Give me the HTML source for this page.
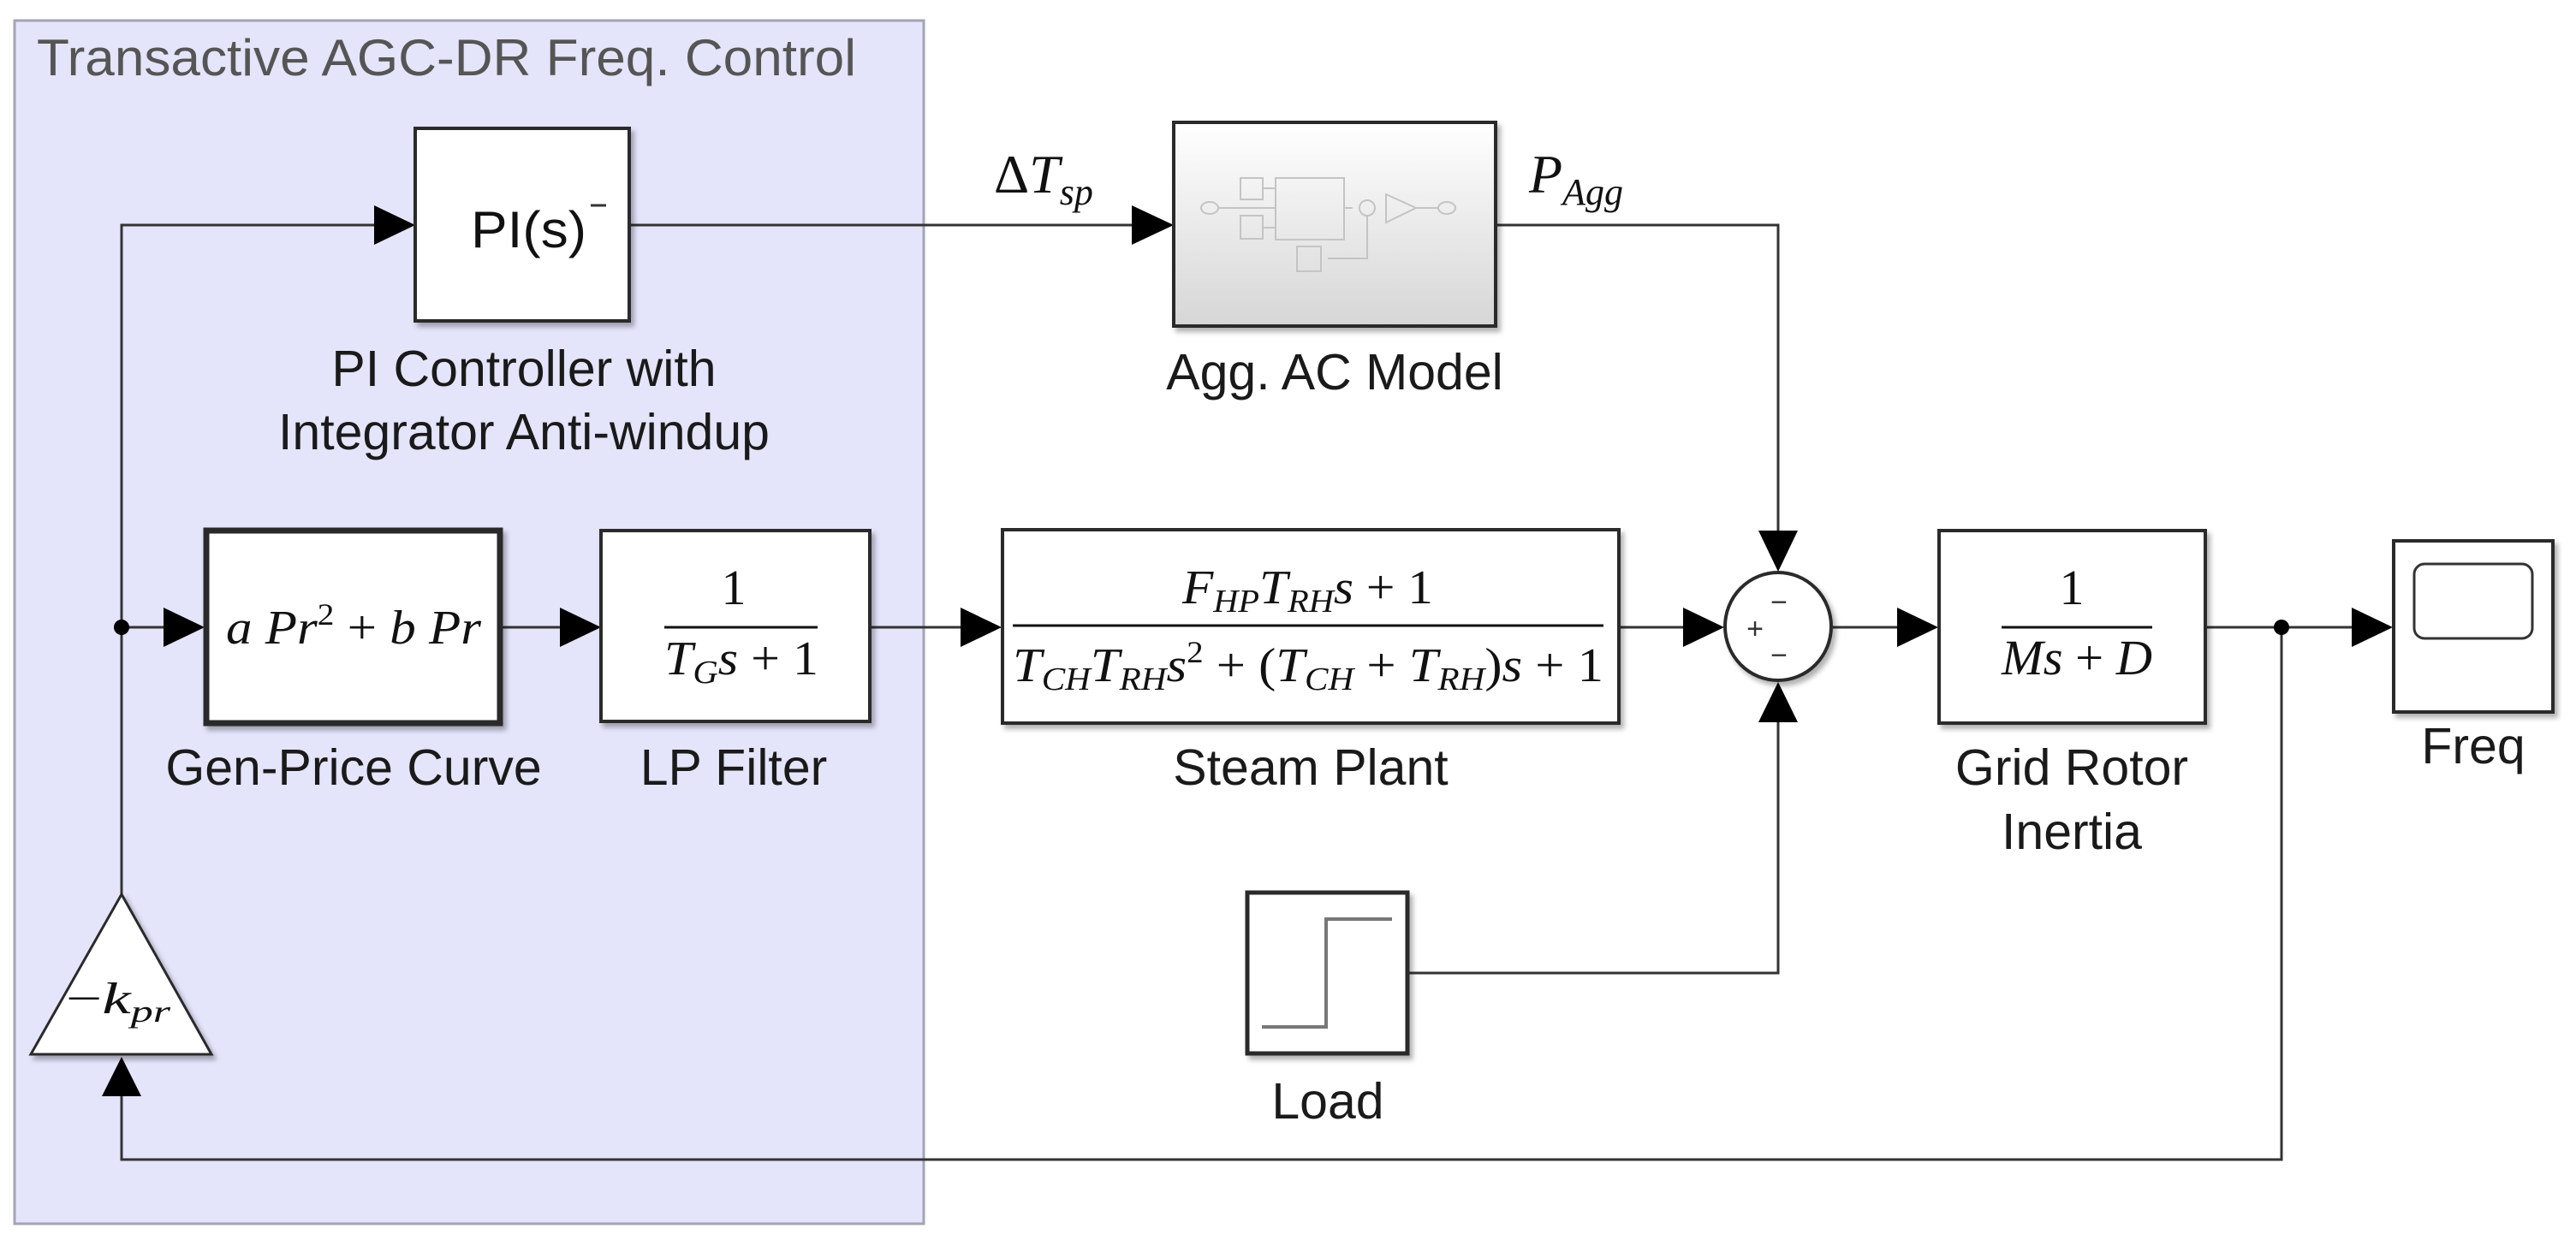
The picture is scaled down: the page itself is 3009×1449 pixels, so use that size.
<!DOCTYPE html>
<html><head><meta charset="utf-8"><style>html,body{margin:0;padding:0;background:#fff}svg{display:block}</style></head>
<body>
<svg width="3009" height="1449" viewBox="0 0 3009 1449" xmlns="http://www.w3.org/2000/svg">
<defs>
<filter id="sh" x="-10%" y="-10%" width="130%" height="130%"><feDropShadow dx="4" dy="5" stdDeviation="3" flood-color="#000" flood-opacity="0.3"/></filter>
<linearGradient id="ag" x1="0" y1="0" x2="0" y2="1"><stop offset="0" stop-color="#ffffff"/><stop offset="1" stop-color="#d6d6d6"/></linearGradient>
</defs>
<rect x="17" y="24" width="1062" height="1406" fill="#e4e4fb" stroke="#a4a4b4" stroke-width="3"/>
<text x="43" y="88" font-family="Liberation Sans, sans-serif" font-size="60" fill="#555" textLength="957" lengthAdjust="spacingAndGlyphs">Transactive AGC-DR Freq. Control</text>

<g stroke="#333" stroke-width="3" fill="none">
<polyline points="142,1045 142,263 440,263"/>
<line x1="735" y1="263" x2="1325" y2="263"/>
<polyline points="1747,263 2077,263 2077,622"/>
<line x1="142" y1="733" x2="192" y2="733"/>
<line x1="585" y1="733" x2="656" y2="733"/>
<line x1="1016" y1="733" x2="1124" y2="733"/>
<line x1="1891" y1="733" x2="1968" y2="733"/>
<line x1="2139" y1="733" x2="2218" y2="733"/>
<line x1="2576" y1="733" x2="2749" y2="733"/>
<polyline points="1644,1137 2077,1137 2077,842"/>
<polyline points="2665,733 2665,1355 142,1355 142,1280"/>
</g>
<g fill="#000">
<polygon points="437,240 485,263 437,286"/>
<polygon points="1322,240 1371,263 1322,286"/>
<polygon points="191,710 239,733 191,756"/>
<polygon points="654,710 702,733 654,756"/>
<polygon points="1122,710 1170,733 1122,756"/>
<polygon points="1966,710 2014,733 1966,756"/>
<polygon points="2216,710 2264,733 2216,756"/>
<polygon points="2747,710 2795,733 2747,756"/>
<polygon points="2054,620 2100,620 2077,668"/>
<polygon points="2054,844 2100,844 2077,797"/>
<polygon points="119,1281 165,1281 142,1235"/>
<circle cx="142" cy="733" r="9"/>
<circle cx="2665" cy="733" r="9"/>
</g>

<g filter="url(#sh)" stroke="#2a2a2a" stroke-width="4">
<rect x="485" y="150" width="250" height="225" fill="#fff"/>
<rect x="1371" y="143" width="376" height="238" fill="url(#ag)"/>
<rect x="241" y="620" width="343" height="225" fill="#fff" stroke-width="7"/>
<rect x="702" y="620" width="314" height="223" fill="#fff"/>
<rect x="1171" y="619" width="720" height="226" fill="#fff"/>
<ellipse cx="2077" cy="732" rx="62" ry="63" fill="#fff"/>
<rect x="2265" y="620" width="311" height="225" fill="#fff"/>
<rect x="2796" y="632" width="186" height="200" fill="#fff"/>
<rect x="1457" y="1043" width="187" height="188" fill="#fff" stroke-width="5"/>
<polygon points="142,1045 247,1232 36,1232" fill="#fff" stroke-width="3"/>
</g>

<g stroke="#c4c4c4" stroke-width="2" fill="none">
<ellipse cx="1413" cy="243" rx="10" ry="7"/>
<line x1="1423" y1="243" x2="1490" y2="243"/>
<rect x="1449" y="208" width="26" height="25"/>
<rect x="1449" y="252" width="26" height="27"/>
<line x1="1475" y1="220" x2="1490" y2="220"/>
<line x1="1475" y1="266" x2="1490" y2="266"/>
<rect x="1490" y="208" width="80" height="72"/>
<line x1="1570" y1="243" x2="1580" y2="243"/>
<circle cx="1597" cy="243" r="9"/>
<polyline points="1597,252 1597,302 1551,302"/>
<rect x="1515" y="288" width="28" height="29"/>
<polygon points="1619,227 1654,243 1619,260"/>
<line x1="1654" y1="243" x2="1680" y2="243"/>
<ellipse cx="1690" cy="243" rx="10" ry="7"/>
</g>

<rect x="2820" y="659" width="138" height="87" rx="12" fill="#fff" stroke="#333" stroke-width="3"/>
<polyline points="1474,1200 1549,1200 1549,1074 1626,1074" fill="none" stroke="#777" stroke-width="4"/>

<g font-family="Liberation Sans, sans-serif" font-size="59" fill="#1a1a1a" text-anchor="middle">
<text x="612" y="451">PI Controller with</text>
<text x="612" y="525">Integrator Anti-windup</text>
<text x="1559" y="455">Agg. AC Model</text>
<text x="413" y="917">Gen-Price Curve</text>
<text x="857" y="917">LP Filter</text>
<text x="1531" y="917">Steam Plant</text>
<text x="2420" y="917">Grid Rotor</text>
<text x="2420" y="992">Inertia</text>
<text x="2889" y="892">Freq</text>
<text x="1551" y="1307">Load</text>
</g>
<text x="550" y="289" font-family="Liberation Sans, sans-serif" font-size="60" fill="#111" textLength="135" lengthAdjust="spacingAndGlyphs">PI(s)</text>
<line x1="690" y1="240" x2="708" y2="240" stroke="#333" stroke-width="3"/>

<g font-family="Liberation Serif, serif" font-style="italic" fill="#111">
<text x="1161" y="225" font-size="64"><tspan font-style="normal">Δ</tspan>T<tspan font-size="44" dy="14">sp</tspan></text>
<text x="1786" y="225" font-size="64">P<tspan font-size="44" dy="14">Agg</tspan></text>
<text x="264" y="752" font-size="56" textLength="298" lengthAdjust="spacingAndGlyphs">a Pr<tspan font-size="36" dy="-22" font-style="normal">2</tspan><tspan dy="22" font-style="normal"> + </tspan>b Pr</text>
<text x="857" y="706" font-size="58" font-style="normal" text-anchor="middle">1</text>
<line x1="776" y1="733" x2="955" y2="733" stroke="#111" stroke-width="3"/>
<text x="776" y="788" font-size="56" textLength="180" lengthAdjust="spacingAndGlyphs">T<tspan font-size="38" dy="10">G</tspan><tspan dy="-10">s </tspan><tspan font-style="normal">+ 1</tspan></text>
<text x="1381" y="705" font-size="56" textLength="293" lengthAdjust="spacingAndGlyphs">F<tspan font-size="38" dy="10">HP</tspan><tspan dy="-10">T</tspan><tspan font-size="38" dy="10">RH</tspan><tspan dy="-10">s </tspan><tspan font-style="normal">+ 1</tspan></text>
<line x1="1183" y1="731" x2="1873" y2="731" stroke="#111" stroke-width="3"/>
<text x="1183" y="796" font-size="56" textLength="690" lengthAdjust="spacingAndGlyphs">T<tspan font-size="38" dy="10">CH</tspan><tspan dy="-10">T</tspan><tspan font-size="38" dy="10">RH</tspan><tspan dy="-10">s</tspan><tspan font-size="36" dy="-22" font-style="normal">2</tspan><tspan dy="22" font-style="normal"> + (</tspan>T<tspan font-size="38" dy="10">CH</tspan><tspan dy="-10" font-style="normal"> + </tspan>T<tspan font-size="38" dy="10">RH</tspan><tspan dy="-10" font-style="normal">)</tspan>s<tspan font-style="normal"> + 1</tspan></text>
<text x="2420" y="706" font-size="58" font-style="normal" text-anchor="middle">1</text>
<line x1="2338" y1="733" x2="2514" y2="733" stroke="#111" stroke-width="3"/>
<text x="2338" y="788" font-size="58" textLength="176" lengthAdjust="spacingAndGlyphs">Ms <tspan font-style="normal">+ </tspan>D</text>
<text x="77" y="1184" font-size="52" textLength="122" lengthAdjust="spacingAndGlyphs"><tspan font-style="normal">−</tspan>k<tspan font-size="36" dy="10">pr</tspan></text>
</g>
<g font-family="Liberation Sans, sans-serif" font-size="34" fill="#333" text-anchor="middle">
<text x="2078" y="715">−</text>
<text x="2050" y="746">+</text>
<text x="2078" y="777">−</text>
</g>
</svg>
</body></html>
